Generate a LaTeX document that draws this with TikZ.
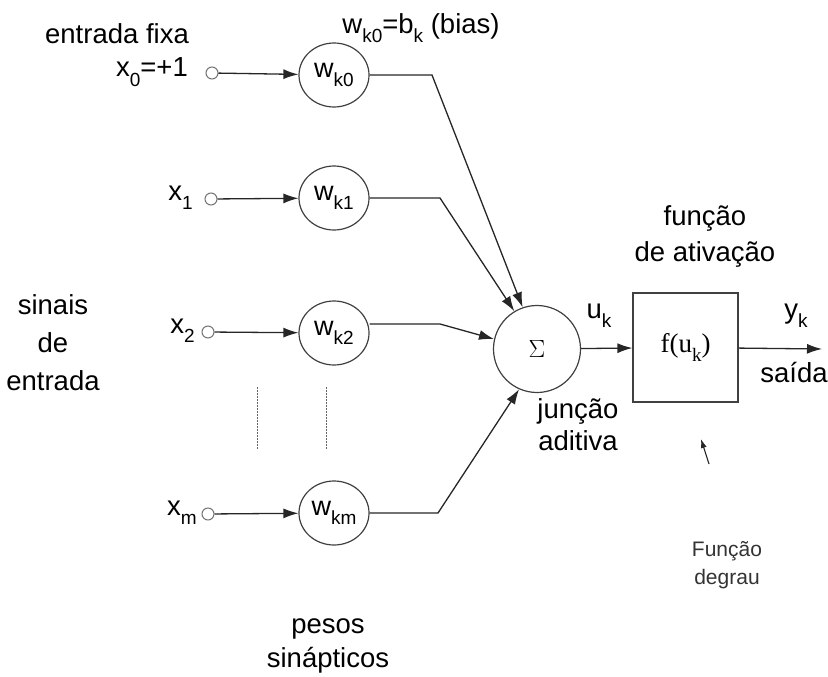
\documentclass[tikz,border=0pt]{standalone}
\usepackage{fontspec}
\setmainfont{Liberation Sans}
\newfontfamily\serifrm{Liberation Serif}
\usetikzlibrary{arrows.meta,shapes.geometric}
\newcommand\mylow[1]{\raisebox{-0.34em}{\fontsize{19}{19}\selectfont #1}}
\begin{document}
\begin{tikzpicture}[x=1pt,y=1pt,
  lbl/.style={font=\fontsize{27.5}{38}\selectfont, inner sep=0, align=center, text=black},
  small/.style={font=\fontsize{21}{28}\selectfont, inner sep=0, align=center, text=black!80},
  wnode/.style={draw=black!75, line width=1.2pt, ellipse, inner sep=0, minimum width=70pt, minimum height=64pt, font=\fontsize{27}{30}\selectfont},
  pin/.style={draw=black!55, line width=1pt, circle, inner sep=0, minimum size=12pt},
  con/.style={draw=black!85, line width=1.3pt},
  arr/.style={con, -{Latex[length=15pt,width=10pt]}},
  dots/.style={draw=black!60, line width=1pt, dash pattern=on 1.5pt off 1.5pt}]
\useasboundingbox (0,-677) rectangle (828,0);
% input pins
\node[pin] (p0) at (212,-73) {};
\node[pin] (p1) at (211,-199) {};
\node[pin] (p2) at (208,-332) {};
\node[pin] (pm) at (208,-514) {};
% input labels
\node[lbl,anchor=east] (lx0) at (188,-72) {x\mylow{0}=+1};
\node[lbl,anchor=east] (lx1) at (193,-198) {x\mylow{1}};
\node[lbl,anchor=east] (lx2) at (195,-331) {x\mylow{2}};
\node[lbl,anchor=east] (lxm) at (197,-513) {x\mylow{m}};
\node[lbl] (fixa) at (117,-34) {entrada fixa};
\node[lbl] (sinais) at (53,-343) {sinais\\de\\entrada};
% weights
\node[wnode] (w0) at (334,-75) {w\mylow{k0}};
\node[wnode] (w1) at (334,-198) {w\mylow{k1}};
\node[wnode] (w2) at (334,-333) {w\mylow{k2}};
\node[wnode] (wm) at (334,-513) {w\mylow{km}};
\node[lbl] (bias) at (421,-28) {w\mylow{k0}=b\mylow{k} (bias)};
% dotted lines
\coordinate (d1a) at (257,-387); \coordinate (d1b) at (257,-450);
\coordinate (d2a) at (326,-387); \coordinate (d2b) at (326,-450);
\draw[dots] (d1a) -- (d1b);
\draw[dots] (d2a) -- (d2b);
% input arrows
\draw[arr] (p0) -- (w0);
\draw[arr] (p1) -- (w1);
\draw[arr] (p2) -- (w2);
\draw[arr] (pm) -- (wm);
% summing junction
\node[draw=black!75, line width=1.2pt, circle, minimum size=87pt, inner sep=0, font=\serifrm\fontsize{30}{30}\selectfont] (sum) at (537,-349) {$\Sigma$};
\coordinate (b0) at (432,-75);
\coordinate (b1) at (440,-198);
\coordinate (b2) at (440,-324);
\coordinate (bm) at (438,-513);
\draw[arr] (w0.east) -- (b0) -- (sum.109);
\draw[arr] (w1.east) -- (b1) -- (sum.121);
\draw[arr] (w2.east |- b2) -- (b2) -- (sum.167);
\draw[arr] (wm.east) -- (bm) -- (sum.246);
\node[lbl] (junc) at (578,-425) {junção\\[-6pt]aditiva};
% activation
\node[draw=black!75, line width=1.2pt, minimum width=105pt, minimum height=109pt, inner sep=0, font=\serifrm\fontsize{27}{30}\selectfont] (f) at (685.5,-347.5) {f(u\raisebox{-0.3em}{\fontsize{19}{19}\selectfont k})};
\draw[arr] (sum) -- (f);
\node[lbl] (uk) at (599,-316) {u\mylow{k}};
\node[lbl] (act) at (705,-236) {função\\[-2pt]de ativação};
\coordinate (out) at (822,-349);
\draw[arr] (f) -- (out);
\node[lbl] (yk) at (796,-316) {y\mylow{k}};
\node[lbl] (saida) at (794,-373) {saída};
% step function note
\coordinate (na) at (709,-464);
\coordinate (nb) at (701,-439);
\draw[draw=black!85, line width=1.1pt, -{Latex[length=9pt,width=6pt]}] (na) -- (nb);
\node[small] (degrau) at (727,-565) {Função\\degrau};
\node[lbl] (pesos) at (328,-646) {pesos\\[-4pt]sinápticos};
\end{tikzpicture}
\end{document}
